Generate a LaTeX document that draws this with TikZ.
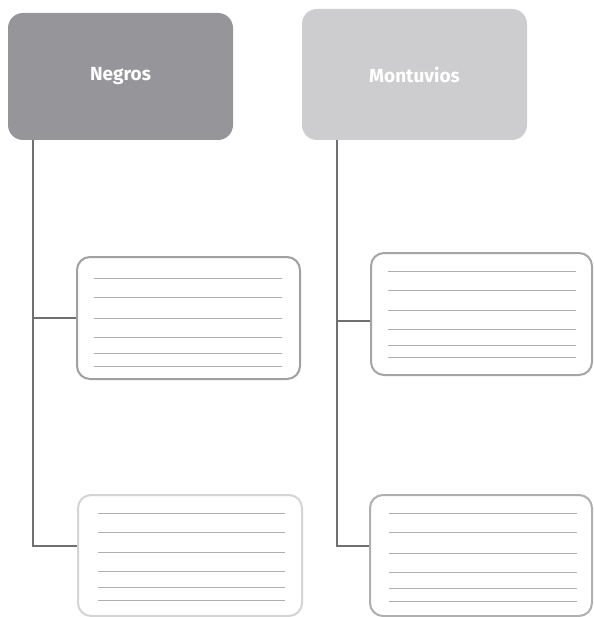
\documentclass[tikz,border=0pt]{standalone}
\usepackage{fontspec}
\setmainfont{Fira Sans}
\usetikzlibrary{calc}
\definecolor{hdA}{RGB}{150,150,154}
\definecolor{hdB}{RGB}{205,205,207}
\definecolor{conn}{RGB}{112,112,112}
\definecolor{rule}{RGB}{175,175,175}
\definecolor{bdA}{RGB}{160,160,160}
\definecolor{bdB}{RGB}{165,165,165}
\definecolor{bdC}{RGB}{212,212,212}
\definecolor{bdD}{RGB}{175,175,175}
\tikzset{
  header/.style={rounded corners=15pt, inner sep=0pt, text=white, font=\fontsize{19}{22}\selectfont\bfseries},
  card/.style={draw, line width=2pt, rounded corners=13pt, fill=white, inner sep=0pt},
  link/.style={draw=conn, line width=1.4pt},
  ruling/.style={draw=rule, line width=0.8pt}
}
\begin{document}
\begin{tikzpicture}[x=1pt,y=-1pt]
\useasboundingbox[fill=white] (0,0) rectangle (593,617);
% headers
\node[header, fill=hdA, minimum width=225pt, minimum height=127pt] (neg) at (120.5,76.5) {Negros};
\node[header, fill=hdB, minimum width=225pt, minimum height=131pt] (mon) at (414.5,74.5) {Montuvios};
% cards
\node[card, draw=bdA, minimum width=223pt, minimum height=122pt] (b1) at (188.5,318) {};
\node[card, draw=bdB, minimum width=221pt, minimum height=122pt] (b2) at (481.5,314) {};
\node[card, draw=bdC, minimum width=224pt, minimum height=121pt] (b3) at (190,555.5) {};
\node[card, draw=bdD, minimum width=222pt, minimum height=121pt] (b4) at (481,555.5) {};
% connectors
\coordinate (t1) at ($(neg.south west)+(25,0)$);
\coordinate (j3) at (t1 |- 0,546);
\draw[link] (t1) -- (j3) -- (j3 -| b3.west);
\draw[link] (t1 |- b1.west) -- (b1.west);
\coordinate (t2) at ($(mon.south west)+(35,0)$);
\coordinate (j4) at (t2 |- 0,546);
\draw[link] (t2) -- (j4) -- (j4 -| b4.west);
\draw[link] (t2 |- 0,321) -- (b2.west |- 0,321);
% rulings
\foreach \y in {278,297,318,337,353,366} \draw[ruling] (94,\y) -- (282,\y);
\foreach \y in {271,290,310,329,345,357} \draw[ruling] (388,\y) -- (576,\y);
\foreach \y in {513,532,552,571,587,600} \draw[ruling] (98,\y) -- (285,\y);
\foreach \y in {513,532,553,572,588,601} \draw[ruling] (389,\y) -- (577,\y);
\end{tikzpicture}
\end{document}
